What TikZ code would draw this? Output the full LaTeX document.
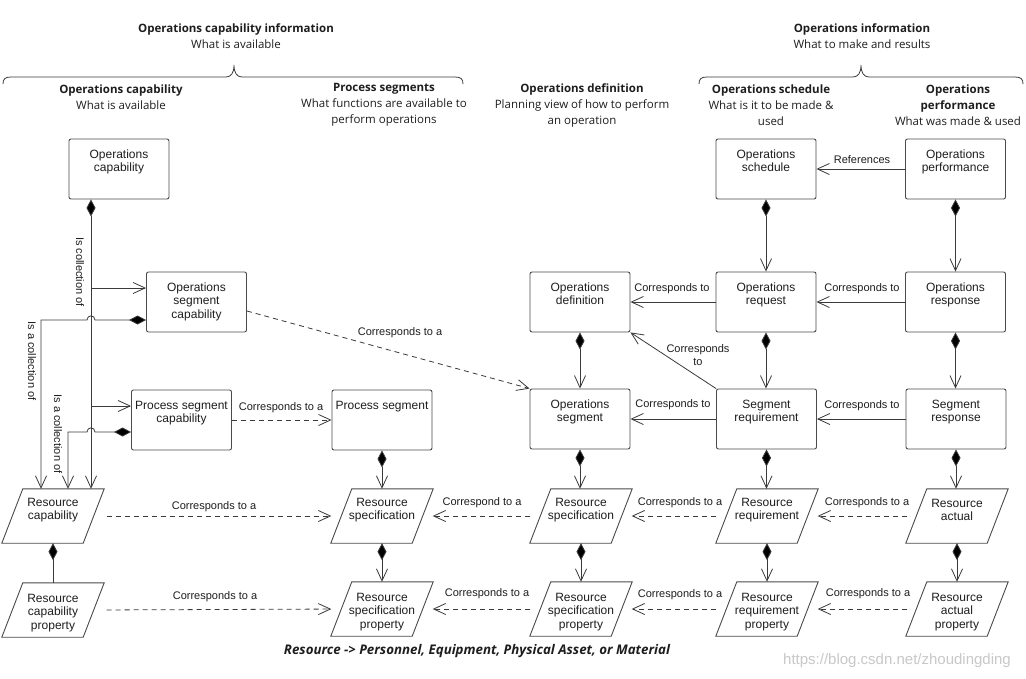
\documentclass[tikz,border=0pt]{standalone}
\usepackage{fontspec}
\setmainfont{Liberation Sans}
\newfontfamily\headfont{Open Sans}
\usetikzlibrary{arrows.meta,calc}
\definecolor{linec}{HTML}{3A3A3A}
\definecolor{boxc}{HTML}{4A4A4A}
\definecolor{txtc}{HTML}{1E1E1E}
\definecolor{markc}{HTML}{C8C8C8}
\begin{document}
\begin{tikzpicture}[x=1pt,y=-1pt,
  box/.style={draw=boxc, line width=0.9pt, rounded corners=2pt, fill=white, minimum width=100pt, minimum height=60pt, inner sep=0pt},
  para/.style={minimum width=81pt, minimum height=54pt, inner sep=0pt},
  pline/.style={draw=boxc, line width=0.9pt},
  btext/.style={anchor=north, yshift=-10pt, align=center, font=\fontsize{12}{13.5}\selectfont, inner sep=1pt, text=txtc},
  ptext/.style={anchor=center, align=center, font=\fontsize{12}{13.5}\selectfont, inner sep=1pt, text=txtc},
  lbl/.style={font=\fontsize{11}{12.5}\selectfont, inner sep=1pt, text=txtc},
  head/.style={align=center, font=\headfont\fontsize{11.5}{16}\selectfont, text=txtc, inner sep=0pt},
  assoc/.style={draw=linec, line width=0.8pt, -{Straight Barb[length=12pt,width=11pt,line width=0.8pt]}},
  comp/.style={draw=linec, line width=0.8pt, {Diamond[length=17pt,width=9pt,fill=black]}-{Straight Barb[length=12pt,width=11pt,line width=0.8pt]}},
  compn/.style={draw=linec, line width=0.8pt, {Diamond[length=17pt,width=9pt,fill=black]}-},
  dassoc/.style={assoc, dash pattern=on 5pt off 4pt},
  bracel/.style={draw=linec, line width=0.8pt}
]
\useasboundingbox[fill=white] (0,0) rectangle (1026,678);

% headings
\node[head] (h1) at (236,36) {{\bfseries Operations capability information}\\What is available};
\node[head] (h2) at (121,97) {{\bfseries Operations capability}\\What is available};
\node[head] (h3) at (384,105) {{\bfseries Process segments}\\What functions are available to\\perform operations};
\node[head] (h4) at (582,105) {{\bfseries Operations definition}\\Planning view of how to perform\\an operation};
\node[head] (h5) at (862,36) {{\bfseries Operations information}\\What to make and results};
\node[head] (h6) at (771,105) {{\bfseries Operations schedule}\\What is it to be made \&\\used};
\node[head] (h7) at (958,105) {{\bfseries Operations}\\{\bfseries performance}\\What was made \& used};

% braces
\draw[bracel] (3,84) .. controls (3,79) and (5,77) .. (11,77) -- (226,77) .. controls (231,77) and (234,73) .. (234,65) .. controls (234,73) and (237,77) .. (242,77) -- (455,77) .. controls (461,77) and (463,79) .. (463,84);
\draw[bracel] (699,84) .. controls (699,79) and (701,77) .. (707,77) -- (853,77) .. controls (858,77) and (861,73) .. (861,65) .. controls (861,73) and (864,77) .. (869,77) -- (1015,77) .. controls (1021,77) and (1023,79) .. (1023,84);

% boxes
\node[box, label={[name=ocT,btext]north:Operations\\capability}] (oc) at (119,169) {};
\node[box, label={[name=oscT,btext]north:Operations\\segment\\capability}] (osc) at (196.5,302) {};
\node[box, label={[name=pscT,btext]north:Process segment\\capability}] (psc) at (181.5,420) {};
\node[box, label={[name=psT,btext]north:Process segment}] (ps) at (382,420) {};
\node[box, label={[name=odT,btext]north:Operations\\definition}] (od) at (580,302) {};
\node[box, label={[name=osT,btext]north:Operations\\segment}] (os) at (580,419) {};
\node[box, label={[name=oschT,btext]north:Operations\\schedule}] (osch) at (766,169) {};
\node[box, label={[name=operfT,btext]north:Operations\\performance}] (operf) at (955.5,169) {};
\node[box, label={[name=oreqT,btext]north:Operations\\request}] (oreq) at (766,302) {};
\node[box, label={[name=orespT,btext]north:Operations\\response}] (oresp) at (955.5,302) {};
\node[box, label={[name=sreqT,btext]north:Segment\\requirement}] (sreq) at (766.5,419) {};
\node[box, label={[name=srespT,btext]north:Segment\\response}] (sresp) at (956,419) {};

% parallelograms
\node[para, label={[name=rcT,ptext,yshift=6pt]center:Resource\\capability}] (rc) at (53,516) {};
\node[para, label={[name=rcpT,ptext,yshift=-3pt]center:Resource\\capability\\property}] (rcp) at (53,610) {};
\node[para, label={[name=rs1T,ptext,yshift=6pt]center:Resource\\specification}] (rs1) at (382,516) {};
\node[para, label={[name=rsp1T,ptext,yshift=-3pt]center:Resource\\specification\\property}] (rsp1) at (382,609) {};
\node[para, label={[name=rs2T,ptext,yshift=6pt]center:Resource\\specification}] (rs2) at (581,516) {};
\node[para, label={[name=rsp2T,ptext,yshift=-3pt]center:Resource\\specification\\property}] (rsp2) at (581,609) {};
\node[para, label={[name=rrT,ptext,yshift=6pt]center:Resource\\requirement}] (rr) at (767,516) {};
\node[para, label={[name=rrpT,ptext,yshift=-3pt]center:Resource\\requirement\\property}] (rrp) at (767,609) {};
\node[para, label={[name=raT,ptext,yshift=6pt]center:Resource\\actual}] (ra) at (957,516) {};
\node[para, label={[name=rapT,ptext,yshift=-3pt]center:Resource\\actual\\property}] (rap) at (957,609) {};
\foreach \n in {rc,rcp,rs1,rsp1,rs2,rsp2,rr,rrp,ra,rap}
  \draw[pline] ([xshift=10.5pt]\n.north west) -- ([xshift=10.5pt]\n.north east) -- ([xshift=-10.5pt]\n.south east) -- ([xshift=-10.5pt]\n.south west) -- cycle;

% left bundle
\coordinate (b1) at (91,288);
\coordinate (b2) at (91,406);
\coordinate (k1) at (41,320);
\coordinate (k2) at (68,432);
\draw[comp] ([xshift=-28pt]oc.south) -- ([xshift=38pt]rc.north);
\draw[assoc] (b1) -- (b1 -| osc.west);
\draw[assoc] (b2) -- (b2 -| psc.west);
\draw[comp] (k1 -| osc.west) -- (95,320) .. controls (95,314.5) and (87,314.5) .. (87,320) -- (k1) -- (k1 |- rc.north);
\draw[comp] (k2 -| psc.west) -- (95,432) .. controls (95,426.5) and (87,426.5) .. (87,432) -- (k2) -- (k2 |- rc.north);
\draw[compn] (rc.south) -- (rcp.north);

% dashed correspondences
\draw[dassoc, shorten <=13pt, shorten >=10pt] (rc.east) -- (rs1.west);
\draw[dassoc, shorten <=13pt, shorten >=10pt] (rcp.east) -- (rsp1.west);
\draw[dassoc] (psc.east) -- (ps.west);
\draw[dassoc] ([yshift=-9pt]osc.east) -- (os.north west);
\draw[dassoc, shorten <=10pt, shorten >=10pt] (rs2.west) -- (rs1.east);
\draw[dassoc, shorten <=10pt, shorten >=10pt] (rsp2.west) -- (rsp1.east);
\draw[dassoc, shorten <=10pt, shorten >=10pt] (rr.west) -- (rs2.east);
\draw[dassoc, shorten <=10pt, shorten >=10pt] (rrp.west) -- (rsp2.east);
\draw[dassoc, shorten <=9pt, shorten >=10pt] (ra.west) -- (rr.east);
\draw[dassoc, shorten <=9pt, shorten >=10pt] (rap.west) -- (rrp.east);

% solid correspondences
\draw[assoc] (operf.west) -- (osch.east);
\draw[assoc] (oreq.west) -- (od.east);
\draw[assoc] (oresp.west) -- (oreq.east);
\draw[assoc] (sreq.west) -- (os.east);
\draw[assoc] (sresp.west) -- (sreq.east);
\draw[assoc] (sreq.north west) -- (od.south east);

% compositions
\draw[comp] (osch.south) -- (oreq.north);
\draw[comp] (operf.south) -- (oresp.north);
\draw[comp] (od.south) -- (os.north);
\draw[comp] (oreq.south) -- (oreq.south |- sreq.north);
\draw[comp] (oresp.south) -- (oresp.south |- sresp.north);
\draw[comp] (ps.south) -- (rs1.north);
\draw[comp] (rs1.south) -- (rsp1.north);
\draw[comp] (os.south) -- (os.south |- rs2.north);
\draw[comp] (rs2.south) -- (rsp2.north);
\draw[comp] (sreq.south) -- (sreq.south |- rr.north);
\draw[comp] (rr.south) -- (rrp.north);
\draw[comp] (sresp.south) -- (sresp.south |- ra.north);
\draw[comp] (ra.south) -- (rap.north);

% labels
\node[lbl, rotate=-90] (l1) at (80,272) {Is collection of};
\node[lbl, rotate=-90] (l2) at (32,361) {Is a collection of};
\node[lbl, rotate=-90] (l3) at (58,434) {Is a collection of};
\node[lbl] (l4) at (214,507) {Corresponds to a};
\node[lbl] (l5) at (215,597) {Corresponds to a};
\node[lbl] (l6) at (281,408) {Corresponds to a};
\node[lbl] (l7) at (400,333) {Corresponds to a};
\node[lbl] (l8) at (862,160) {References};
\node[lbl] (l9) at (672,289) {Corresponds to};
\node[lbl] (l10) at (862,289) {Corresponds to};
\node[lbl] (l11) at (673,405) {Corresponds to};
\node[lbl] (l12) at (862,406) {Corresponds to};
\node[lbl, align=center] (l13) at (698,355) {Corresponds\\to};
\node[lbl] (l14) at (482,503) {Correspond to a};
\node[lbl] (l15) at (487,594) {Corresponds to a};
\node[lbl] (l16) at (680,503) {Corresponds to a};
\node[lbl] (l17) at (680,595) {Corresponds to a};
\node[lbl] (l18) at (867,503) {Corresponds to a};
\node[lbl] (l19) at (868,594) {Corresponds to a};

% footer
\node[font=\headfont\bfseries\itshape\fontsize{13.3}{15}\selectfont, text=txtc] (foot) at (477,651) {Resource -> Personnel, Equipment, Physical Asset, or Material};
\node[font=\fontsize{15}{17}\selectfont, text=markc] (wm) at (897,661) {https://blog.csdn.net/zhoudingding};
\end{tikzpicture}
\end{document}
